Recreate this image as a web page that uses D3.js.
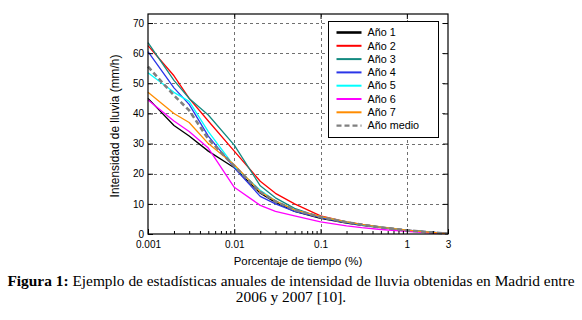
<!DOCTYPE html>
<html>
<head>
<meta charset="utf-8">
<script src="https://cdn.jsdelivr.net/npm/d3@7"></script>
<style>
  body { margin: 0; background: #fff; }
  svg { display: block; }
</style>
</head>
<body>
<svg id="chart" width="582" height="320"></svg>
<script>
// porcentaje de tiempo (%)
const pct = [0.001, 0.002, 0.003, 0.005, 0.01, 0.02, 0.03, 0.05, 0.1, 0.2, 0.3, 0.5, 1, 2, 3]

// intensidad de lluvia (mm/h) por año
const ano1 = [45, 36, 32.5, 27.5, 22, 13.5, 10.5, 7.5, 5.2, 3.6, 2.9, 2.1, 1.2, 0.5, 0.1]
const ano2 = [62.5, 52.5, 45, 37.5, 27.5, 17.5, 13.5, 10, 6, 4, 3.2, 2.3, 1.3, 0.5, 0.1]
const ano3 = [63.5, 51, 45, 39.5, 29.5, 16, 12, 8.5, 5.5, 3.8, 3, 2.2, 1.2, 0.5, 0.1]
const ano4 = [60.5, 48.5, 43, 32.5, 22, 12.5, 10, 7.5, 5.4, 3.8, 3, 2.2, 1.3, 0.6, 0.1]
const ano5 = [53.5, 47, 44, 34, 22.5, 14.5, 11, 8, 5.8, 4, 3.1, 2.3, 1.3, 0.5, 0.1]
const ano6 = [44.5, 37.5, 34, 28.5, 15.5, 9.5, 7.5, 6, 4, 2.7, 2.1, 1.5, 0.9, 0.3, 0.1]
const ano7 = [47, 40, 37, 30, 23, 14, 11, 8, 5.8, 4, 3.2, 2.3, 1.3, 0.5, 0.1]
const medio = [55.5, 46, 41, 31.5, 22.5, 14, 10.8, 8, 5.6, 3.9, 3.1, 2.2, 1.2, 0.5, 0.1]

const seriesNames = ["Año 1", "Año 2", "Año 3", "Año 4", "Año 5", "Año 6", "Año 7", "Año medio"]
const seriesValues = [ano1, ano2, ano3, ano4, ano5, ano6, ano7, medio]
const seriesColors = ["#000000", "#ff0000", "#138a80", "#2a35e8", "#00ffff", "#ff00ff", "#ff8c00", "#808080"]

const xTicks = [0.001, 0.01, 0.1, 1, 3]
const xTickLabels = ["0.001", "0.01", "0.1", "1", "3"]
const yTicks = [0, 10, 20, 30, 40, 50, 60, 70]

const svg = d3.select("#chart")
const margin = { top: 14, right: 134, bottom: 86, left: 148 }
const width = 582, height = 320
const sans = "'Liberation Sans', Arial, sans-serif"

const x = d3.scaleLog().domain([0.001, 3]).range([margin.left, width - margin.right])
const y = d3.scaleLinear().domain([0, 73]).range([height - margin.bottom, margin.top])

const x0 = x.range()[0], x1 = x.range()[1]
const y0 = y.range()[0], y1 = y.range()[1]

// grid
const grid = svg.append("g")
  .attr("stroke", "#707070")
  .attr("stroke-width", 1)
  .attr("stroke-dasharray", "3,3")
grid.selectAll(".gx")
  .data([0.01, 0.1, 1])
  .join("line")
  .attr("x1", d => Math.round(x(d)) + 0.5)
  .attr("x2", d => Math.round(x(d)) + 0.5)
  .attr("y1", y1).attr("y2", y0)
grid.selectAll(".gy")
  .data(yTicks.filter(d => d > 0))
  .join("line")
  .attr("y1", d => Math.round(y(d)) + 0.5)
  .attr("y2", d => Math.round(y(d)) + 0.5)
  .attr("x1", x0).attr("x2", x1)

// curves
const line = d3.line()
  .x((d, i) => x(pct[i]))
  .y(d => y(d))

svg.append("g")
  .selectAll("path")
  .data(seriesValues)
  .join("path")
  .attr("fill", "none")
  .attr("stroke", (d, i) => seriesColors[i])
  .attr("stroke-width", (d, i) => i === 7 ? 2.6 : 1.3)
  .attr("stroke-dasharray", (d, i) => i === 7 ? "5,3" : null)
  .attr("stroke-linejoin", "round")
  .attr("d", line)

// axes with inward ticks
const axisG = svg.append("g").attr("font-family", sans).attr("font-size", 11.5)

axisG.append("g")
  .attr("transform", `translate(0,${y0})`)
  .call(d3.axisBottom(x).tickValues(xTicks).tickFormat((d, i) => xTickLabels[i]).tickSizeInner(-5).tickSizeOuter(0).tickPadding(7))
  .call(g => g.select(".domain").remove())
  .call(g => g.selectAll("text").attr("fill", "#000"))

// minor log ticks
const minor = []
for (let e = -3; e <= 0; e++) {
  for (let k = 2; k <= 9; k++) {
    const v = k * Math.pow(10, e)
    if (v < 3) minor.push(v)
  }
}
axisG.append("g")
  .attr("transform", `translate(0,${y0})`)
  .call(d3.axisBottom(x).tickValues(minor).tickFormat("").tickSizeInner(-3).tickSizeOuter(0))
  .call(g => g.select(".domain").remove())

axisG.append("g")
  .attr("transform", `translate(0,${y1})`)
  .call(d3.axisTop(x).tickValues([0.01, 0.1, 1]).tickFormat("").tickSizeInner(-5).tickSizeOuter(0))
  .call(g => g.select(".domain").remove())

axisG.append("g")
  .attr("transform", `translate(${x0},0)`)
  .call(d3.axisLeft(y).tickValues(yTicks).tickSizeInner(-5).tickSizeOuter(0).tickPadding(4))
  .call(g => g.select(".domain").remove())
  .call(g => g.selectAll("text").attr("fill", "#000"))

axisG.append("g")
  .attr("transform", `translate(${x1},0)`)
  .call(d3.axisRight(y).tickValues(yTicks.filter(d => d > 0)).tickFormat("").tickSizeInner(-5).tickSizeOuter(0))
  .call(g => g.select(".domain").remove())

// frame
svg.append("rect")
  .attr("x", x0).attr("y", y1)
  .attr("width", x1 - x0).attr("height", y0 - y1)
  .attr("fill", "none")
  .attr("stroke", "#000")
  .attr("stroke-width", 1.2)

// axis titles
svg.append("text")
  .attr("x", (x0 + x1) / 2).attr("y", 265)
  .attr("text-anchor", "middle")
  .attr("font-family", sans).attr("font-size", 11.4)
  .text("Porcentaje de tiempo (%)")

svg.append("text")
  .attr("transform", `translate(119,${(y0 + y1) / 2 + 2}) rotate(-90)`)
  .attr("text-anchor", "middle")
  .attr("font-family", sans).attr("font-size", 11.9)
  .text("Intensidad de lluvia (mm/h)")

// legend
const legend = svg.append("g").attr("transform", "translate(328.5,21.5)")
legend.append("rect")
  .attr("width", 110).attr("height", 116)
  .attr("fill", "#fff")
  .attr("stroke", "#000")
  .attr("stroke-width", 1)

const item = legend.selectAll(".item")
  .data(seriesNames)
  .join("g")
  .attr("transform", (d, i) => `translate(0,${11 + i * 13.3})`)
item.append("line")
  .attr("x1", 8).attr("x2", 33)
  .attr("stroke", (d, i) => seriesColors[i])
  .attr("stroke-width", (d, i) => i === 0 ? 2.6 : i === 7 ? 2.4 : 2)
  .attr("stroke-dasharray", (d, i) => i === 7 ? "5,3" : null)
item.append("text")
  .attr("x", 39).attr("dy", "0.35em")
  .attr("font-family", sans).attr("font-size", 10.8)
  .text(d => d)

// caption
const cap = svg.append("g")
  .attr("font-family", "'Liberation Serif', 'Times New Roman', serif")
  .attr("font-size", 15.4)
  .attr("text-anchor", "middle")
const l1 = cap.append("text").attr("x", 291).attr("y", 286)
l1.append("tspan").attr("font-weight", "bold").text("Figura 1:")
l1.append("tspan").text(" Ejemplo de estadísticas anuales de intensidad de lluvia obtenidas en Madrid entre")
cap.append("text").attr("x", 291).attr("y", 302).text("2006 y 2007 [10].")
</script>
</body>
</html>
